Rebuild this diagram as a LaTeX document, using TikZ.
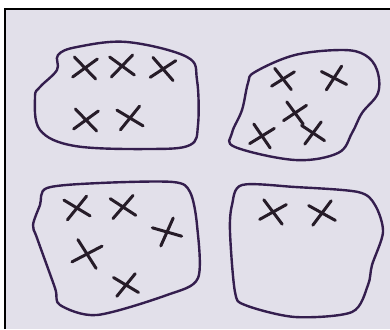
\documentclass[tikz,border=0pt]{standalone}
\usetikzlibrary{shapes.misc}
\definecolor{paper}{RGB}{226,224,234}
\definecolor{ink}{RGB}{52,30,78}
\definecolor{pencil}{RGB}{38,28,40}
\tikzset{
  every node/.style={inner sep=0pt},
}
\begin{document}
\begin{tikzpicture}[x=1pt, y=-1pt,
    blob/.style = {draw=ink, line width=2.4pt, line join=round},
    xcross/.style = {cross out, draw=pencil, line width=3pt,
      line cap=round, minimum width=20pt, minimum height=17pt}]

  \useasboundingbox (0,0) rectangle (390,329);
  \fill[white] (0,0) rectangle (390,329);
  \fill[paper] (5,9) rectangle (390,329);
  \draw[line width=2.4pt] (5,329) -- (5,9) -- (390,9);

  % --- Groups ---
  \draw[blob] plot[smooth cycle, tension=0.6] coordinates {
    (58,55) (77,47) (127,42) (187,57) (197,80) (198,125) (190,145)
    (150,149) (75,146) (40,130) (35,97) (40,87) (57,70)};
  \draw[blob] plot[smooth cycle, tension=0.6] coordinates {
    (255,72) (295,55) (342,50) (365,55) (377,70) (378,93) (362,113)
    (352,133) (338,153) (295,160) (235,147) (232,133) (242,110) (248,83)};
  \draw[blob] plot[smooth cycle, tension=0.5] coordinates {
    (47,188) (100,183) (173,182) (190,192) (197,225) (198,278)
    (167,295) (97,315) (60,305) (55,288) (37,238) (33,225) (40,205)};
  \draw[blob] plot[smooth cycle, tension=0.5] coordinates {
    (242,185) (295,187) (358,192) (375,205) (383,232) (372,265)
    (368,285) (352,312) (295,317) (245,305) (235,292) (230,232) (232,205)};

  % --- Members ---
  \node[xcross, rotate=-5] (a1) at (85,68) {};
  \node[xcross, rotate=5] (a2) at (122,66) {};
  \node[xcross, rotate=-8] (a3) at (163,69) {};
  \node[xcross, rotate=-5] (a4) at (86,120) {};
  \node[xcross, rotate=10] (a5) at (130,118) {};

  \node[xcross, minimum width=17pt, minimum height=15pt, rotate=-10] (b1) at (283,79) {};
  \node[xcross, minimum width=18pt, minimum height=16pt, rotate=15] (b2) at (334,78) {};
  \node[xcross, minimum width=17pt, minimum height=16pt, rotate=-10] (b3) at (295,113) {};
  \node[xcross, minimum width=18pt, minimum height=17pt, rotate=-12] (b4) at (262,136) {};
  \node[xcross, minimum width=17pt, minimum height=16pt, rotate=10] (b5) at (313,133) {};

  \node[xcross, rotate=10] (c1) at (77,208) {};
  \node[xcross, rotate=8] (c2) at (123,207) {};
  \node[xcross, rotate=25] (c3) at (167,232) {};
  \node[xcross, minimum width=22pt, minimum height=20pt, rotate=-15] (c4) at (87,254) {};
  \node[xcross, minimum width=19pt, minimum height=16pt, rotate=10] (c5) at (126,285) {};

  \node[xcross, rotate=-12] (d1) at (273,212) {};
  \node[xcross, rotate=12] (d2) at (322,213) {};

\end{tikzpicture}
\end{document}
